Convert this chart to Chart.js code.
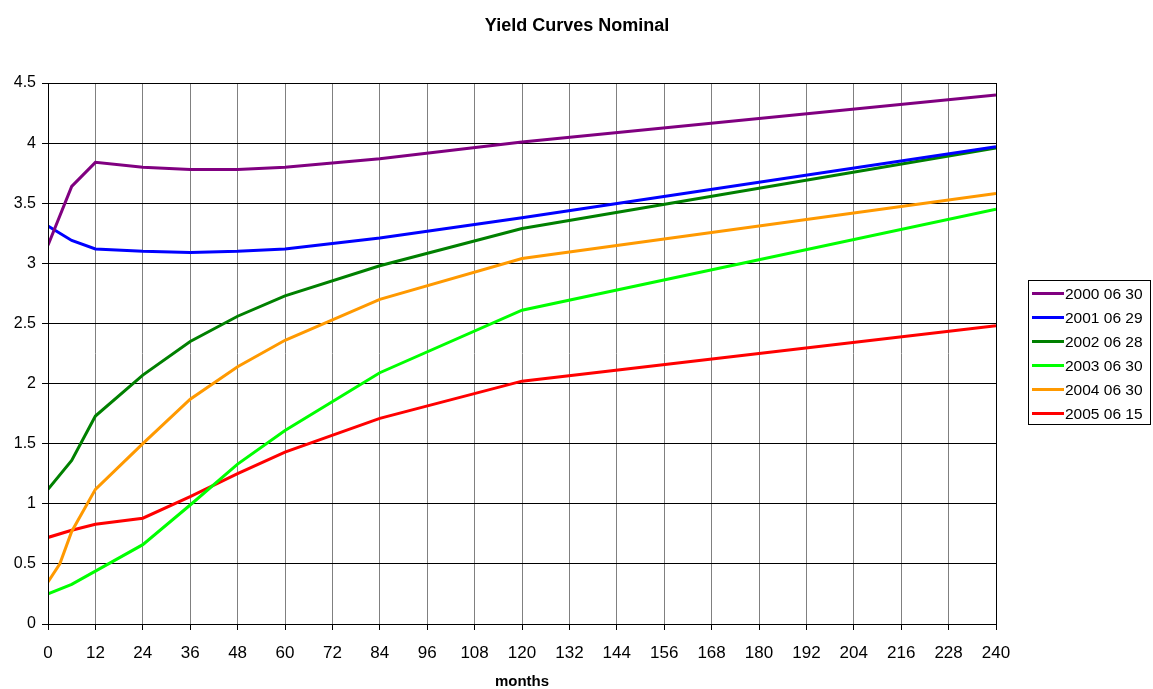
<!DOCTYPE html>
<html>
<head>
<meta charset="utf-8">
<script src="https://cdn.jsdelivr.net/npm/chart.js@4/dist/chart.umd.min.js"></script>
<style>
html,body{margin:0;padding:0;background:#fff;}
#wrap{width:1153px;height:689px;position:relative;}
</style>
</head>
<body>
<div id="wrap"><canvas id="c" width="1153" height="689"></canvas></div>
<script>
const chartTitle = "Yield Curves Nominal";
const xTitle = "months";
const months = [0, 3, 6, 12, 24, 36, 48, 60, 84, 120, 240];
const seriesNames = ["2000 06 30", "2001 06 29", "2002 06 28", "2003 06 30", "2004 06 30", "2005 06 15"];
const y2000 = [3.15, null, 3.64, 3.84, 3.80, 3.78, 3.78, 3.80, 3.87, 4.01, 4.40];
const y2001 = [3.31, null, 3.19, 3.12, 3.10, 3.09, 3.10, 3.12, 3.21, 3.38, 3.97];
const y2002 = [1.12, null, 1.36, 1.73, 2.07, 2.35, 2.56, 2.73, 2.98, 3.29, 3.96];
const y2003 = [0.25, null, 0.33, 0.44, 0.66, 0.99, 1.33, 1.61, 2.09, 2.61, 3.45];
const y2004 = [0.35, 0.50, 0.77, 1.12, 1.50, 1.87, 2.14, 2.36, 2.70, 3.04, 3.58];
const y2005 = [0.72, null, 0.78, 0.83, 0.88, 1.06, 1.25, 1.43, 1.71, 2.02, 2.48];
const colors = ["#800080", "#0000FF", "#008000", "#00FF00", "#FF9900", "#FF0000"];
const allSeries = [y2000, y2001, y2002, y2003, y2004, y2005];

const FONT = "Arial, 'Liberation Sans', sans-serif";

const datasets = allSeries.map((vals, i) => ({
  label: seriesNames[i],
  data: months.map((m, j) => ({x: m, y: vals[j]})),
  borderColor: colors[i],
  backgroundColor: colors[i],
  borderWidth: 3,
  pointRadius: 0,
  tension: 0,
  spanGaps: true,
  fill: false
}));

const decor = {
  id: 'decor',
  afterDraw(chart) {
    const ctx = chart.ctx;
    const a = chart.chartArea;
    ctx.save();
    ctx.strokeStyle = '#000';
    ctx.lineWidth = 1;
    ctx.strokeRect(a.left + 0.5, a.top + 0.5, a.right - a.left, a.bottom - a.top);
    ctx.fillStyle = '#000';
    ctx.font = "bold 18px " + FONT;
    ctx.textAlign = 'center';
    ctx.textBaseline = 'middle';
    ctx.fillText(chartTitle, 577, 26);
    ctx.font = "bold 15px " + FONT;
    ctx.fillText(xTitle, (a.left + a.right) / 2, 682);
    const lx = 1028, ly = 280, lw = 122, lh = 144;
    ctx.fillStyle = '#fff';
    ctx.fillRect(lx, ly, lw, lh);
    ctx.strokeStyle = '#000';
    ctx.lineWidth = 1;
    ctx.strokeRect(lx + 0.5, ly + 0.5, lw, lh);
    ctx.font = "15.5px " + FONT;
    ctx.textAlign = 'left';
    const step = 24;
    seriesNames.forEach((n, i) => {
      const yy = ly + 13.5 + i * step;
      ctx.strokeStyle = colors[i];
      ctx.lineWidth = 3;
      ctx.beginPath();
      ctx.moveTo(lx + 4, yy);
      ctx.lineTo(lx + 36, yy);
      ctx.stroke();
      ctx.fillStyle = '#000';
      ctx.fillText(n, lx + 37, yy + 1);
    });
    ctx.restore();
  }
};

new Chart(document.getElementById('c'), {
  type: 'line',
  data: { datasets },
  options: {
    responsive: false,
    animation: false,
    devicePixelRatio: 1,
    layout: { padding: { top: 83, right: 157, left: 0, bottom: 0 } },
    plugins: { legend: { display: false }, title: { display: false }, tooltip: { enabled: false } },
    scales: {
      x: {
        type: 'linear',
        min: 0, max: 240,
        ticks: { stepSize: 12, color: '#000', font: { size: 17, family: FONT }, padding: 13, maxRotation: 0, autoSkip: false },
        grid: { color: '#808080', lineWidth: 1, tickLength: 6, tickColor: '#000', drawTicks: true },
        border: { display: false },
        afterFit(s) { s.height = 65; }
      },
      y: {
        min: 0, max: 4.5,
        ticks: { stepSize: 0.5, color: '#000', font: { size: 16, family: FONT }, padding: 6,
          callback: v => String(Math.round(v * 10) / 10) },
        grid: { color: '#000', lineWidth: 1, tickLength: 6, tickColor: '#000' },
        border: { display: false },
        afterFit(s) { s.width = 48; }
      }
    }
  },
  plugins: [decor]
});
</script>
</body>
</html>
